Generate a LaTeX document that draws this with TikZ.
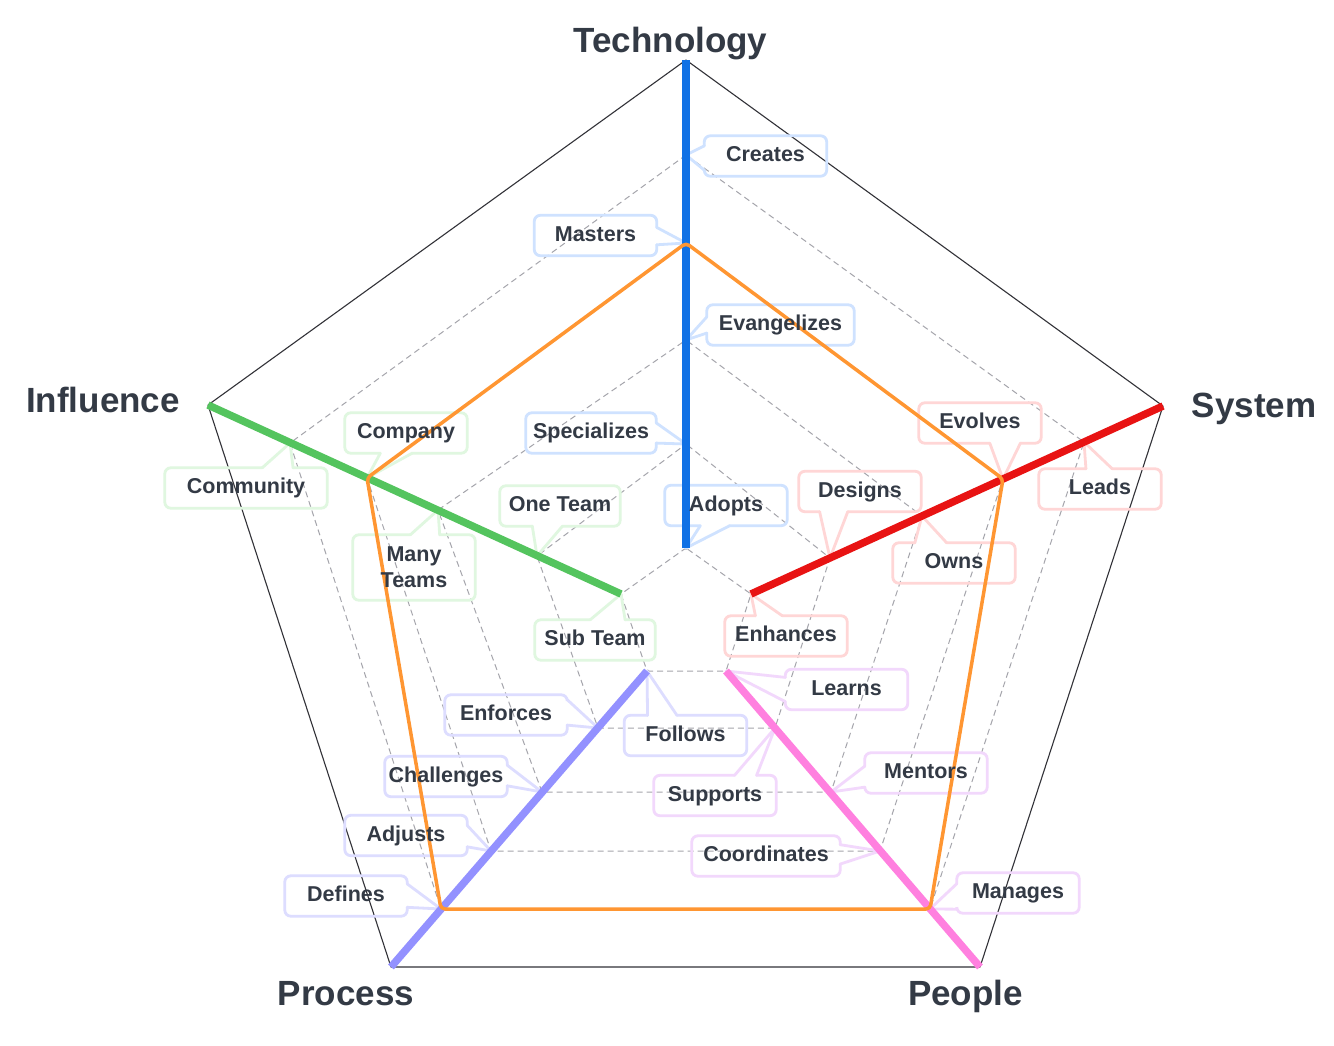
\documentclass[tikz,border=0pt]{standalone}
\usepackage{fontspec}
\setmainfont{Liberation Sans}
\usetikzlibrary{calc}

\definecolor{ink}{RGB}{51,58,69}
\definecolor{ringgrey}{RGB}{165,165,172}
\definecolor{outerc}{RGB}{50,50,56}
\definecolor{bluec}{RGB}{16,113,229}
\definecolor{redc}{RGB}{232,19,19}
\definecolor{greenc}{RGB}{84,196,94}
\definecolor{purpc}{RGB}{147,145,255}
\definecolor{pinkc}{RGB}{255,128,223}
\definecolor{orangec}{RGB}{255,150,50}
\definecolor{bluel}{RGB}{207,226,255}
\definecolor{redl}{RGB}{255,214,214}
\definecolor{greenl}{RGB}{224,247,224}
\definecolor{purpl}{RGB}{221,221,255}
\definecolor{pinkl}{RGB}{242,216,252}

\pgfdeclarelayer{bg}
\pgfsetlayers{bg,main}

% callout outline with its pointer on the bottom / top / left / right edge
% #1 node, #2 colour, #3 #4 pointer base (fractions along the edge), #5 tip
\newcommand\calloutB[5]{%
  \draw[cbox,draw=#2] ($(#1.south west)!#4!(#1.south east)$) -- (#1.south east) -- (#1.north east) -- (#1.north west) -- (#1.south west) -- ($(#1.south west)!#3!(#1.south east)$);
  \draw[cptr,draw=#2] ($(#1.south west)!#3!(#1.south east)$) -- (#5) -- ($(#1.south west)!#4!(#1.south east)$);}
\newcommand\calloutT[5]{%
  \draw[cbox,draw=#2] ($(#1.north west)!#4!(#1.north east)$) -- (#1.north east) -- (#1.south east) -- (#1.south west) -- (#1.north west) -- ($(#1.north west)!#3!(#1.north east)$);
  \draw[cptr,draw=#2] ($(#1.north west)!#3!(#1.north east)$) -- (#5) -- ($(#1.north west)!#4!(#1.north east)$);}
\newcommand\calloutL[5]{%
  \draw[cbox,draw=#2] ($(#1.north west)!#4!(#1.south west)$) -- (#1.south west) -- (#1.south east) -- (#1.north east) -- (#1.north west) -- ($(#1.north west)!#3!(#1.south west)$);
  \draw[cptr,draw=#2] ($(#1.north west)!#3!(#1.south west)$) -- (#5) -- ($(#1.north west)!#4!(#1.south west)$);}
\newcommand\calloutR[5]{%
  \draw[cbox,draw=#2] ($(#1.north east)!#4!(#1.south east)$) -- (#1.south east) -- (#1.south west) -- (#1.north west) -- (#1.north east) -- ($(#1.north east)!#3!(#1.south east)$);
  \draw[cptr,draw=#2] ($(#1.north east)!#3!(#1.south east)$) -- (#5) -- ($(#1.north east)!#4!(#1.south east)$);}

\tikzset{
  dashring/.style={draw=ringgrey, line width=1pt, dash pattern=on 6pt off 4pt, rounded corners=2pt},
  outerring/.style={draw=outerc, line width=1.1pt, line join=round},
  spoke/.style={line width=7.5pt, line cap=butt},
  score/.style={draw=orangec, line width=3.5pt, line join=round, rounded corners=4pt},
  cbox/.style={line width=2.8pt, rounded corners=6pt, line cap=round},
  cptr/.style={line width=2.8pt, line join=round, line cap=round},
  lbl/.style={font=\fontsize{21.5}{26}\selectfont\bfseries, text=ink, inner sep=0pt,
    minimum width=122pt, minimum height=40pt, text height=15.5pt, text depth=4.5pt},
  lbltwo/.style={font=\fontsize{21.5}{26}\selectfont\bfseries, text=ink, inner sep=0pt,
    minimum width=122pt, minimum height=65pt, align=center},
  axlbl/.style={font=\fontsize{35}{42}\selectfont\bfseries, text=ink, inner sep=0pt, anchor=base}
}

\begin{document}
\begin{tikzpicture}[x=1pt,y=-1pt]
\useasboundingbox (0,0) rectangle (1334,1045);

% level points on the five axes, level 0 (hub) to level 5 (rim)
\foreach \n/\x/\y in {T0/686/548, T1/686/444, T2/686/340, T3/686/243, T4/686/155, T5/686/60,
  S0/751/594, S1/830/558, S2/922/516, S3/1003/479, S4/1084/442, S5/1163/406,
  P0/726/671, P1/775/728, P2/831/792, P3/880/851, P4/930/909, P5/980/967,
  R0/647/671, R1/598/728, R2/542/792, R3/491/851, R4/441/909, R5/391/967,
  I0/621/594, I1/537/556, I2/438/510, I3/367/478, I4/290/443, I5/208/405}
  \coordinate (\n) at (\x,\y);

% axis titles
\node[axlbl] (lTech) at (670.5,52) {Technology};
\node[axlbl] (lSys) at (1254,417) {System};
\node[axlbl] (lPeople) at (965.5,1005) {People};
\node[axlbl] (lProc) at (346,1005) {Process};
\node[axlbl] (lInfl) at (103,412) {Influence};

% callout texts
\node[lbl] (cCreates) at (765.5,156) {Creates};
\node[lbl] (cMasters) at (595.5,235.5) {Masters};
\node[lbl, minimum width=147pt] (cEvang) at (780.5,325) {Evangelizes};
\node[lbl, minimum width=130pt] (cSpec) at (591,433) {Specializes};
\node[lbl] (cAdopts) at (726,505.5) {Adopts};

\node[lbl] (cDesigns) at (860,491.5) {Designs};
\node[lbl] (cEvolves) at (980,423) {Evolves};
\node[lbl] (cOwns) at (954,563) {Owns};
\node[lbl] (cLeads) at (1100,489) {Leads};
\node[lbl] (cEnh) at (786,636) {Enhances};

\node[lbl] (cLearns) at (846.5,689.5) {Learns};
\node[lbl] (cSupports) at (715,795.5) {Supports};
\node[lbl] (cMentors) at (926,773) {Mentors};
\node[lbl, minimum width=148pt] (cCoord) at (766,856) {Coordinates};
\node[lbl] (cManages) at (1018,893) {Manages};

\node[lbl] (cFollows) at (685.5,735.5) {Follows};
\node[lbl] (cEnforces) at (506,715) {Enforces};
\node[lbl] (cChall) at (446,776.5) {Challenges};
\node[lbl] (cAdjusts) at (406,835.5) {Adjusts};
\node[lbl] (cDefines) at (346,896) {Defines};

\node[lbl, minimum width=120pt] (cSub) at (595,640) {Sub Team};
\node[lbl, minimum width=120pt] (cOne) at (560,506) {One Team};
\node[lbltwo] (cMany) at (414,567.5) {Many\\Teams};
\node[lbl] (cCompany) at (406,433) {Company};
\node[lbl, minimum width=162pt] (cCommunity) at (246,488) {Community};

\begin{pgfonlayer}{bg}
  \fill[white] (0,0) rectangle (1334,1045);

  % grid rings
  \foreach \k in {0,...,4}
    \draw[dashring] (T\k) -- (S\k) -- (P\k) -- (R\k) -- (I\k) -- cycle;
  \draw[outerring] (T5) -- (S5) -- (P5) -- (R5) -- (I5) -- cycle;

  % callout frames
  \calloutL{cCreates}{bluel}{0.25}{0.85}{T4}
  \calloutR{cMasters}{bluel}{0.3}{0.73}{T3}
  \calloutL{cEvang}{bluel}{0.3}{0.7}{T2}
  \calloutR{cSpec}{bluel}{0.25}{0.75}{T1}
  \calloutB{cAdopts}{bluel}{0.29}{0.53}{T0}

  \calloutB{cDesigns}{redl}{0.17}{0.4}{S1}
  \calloutB{cEvolves}{redl}{0.58}{0.83}{S3}
  \calloutT{cOwns}{redl}{0.18}{0.44}{S2}
  \calloutT{cLeads}{redl}{0.385}{0.6}{S4}
  \calloutT{cEnh}{redl}{0.25}{0.47}{S0}

  \calloutL{cLearns}{pinkl}{0.2}{0.8}{P0}
  \calloutT{cSupports}{pinkl}{0.66}{0.84}{P1}
  \calloutL{cMentors}{pinkl}{0.33}{0.85}{P2}
  \calloutR{cCoord}{pinkl}{0.22}{0.7}{P3}
  \calloutL{cManages}{pinkl}{0.27}{0.9}{P4}

  \calloutT{cFollows}{purpl}{0.19}{0.43}{R0}
  \calloutR{cEnforces}{purpl}{0.12}{0.75}{R1}
  \calloutR{cChall}{purpl}{0.22}{0.73}{R2}
  \calloutR{cAdjusts}{purpl}{0.25}{0.78}{R3}
  \calloutR{cDefines}{purpl}{0.2}{0.78}{R4}

  \calloutT{cSub}{greenl}{0.46}{0.75}{I0}
  \calloutB{cOne}{greenl}{0.27}{0.52}{I1}
  \calloutT{cMany}{greenl}{0.47}{0.71}{I2}
  \calloutB{cCompany}{greenl}{0.29}{0.55}{I3}
  \calloutT{cCommunity}{greenl}{0.6}{0.79}{I4}

  % axes
  \draw[spoke, draw=bluec] (T0) -- (T5);
  \draw[spoke, draw=redc] (S0) -- (S5);
  \draw[spoke, draw=pinkc] (P0) -- (P5);
  \draw[spoke, draw=purpc] (R0) -- (R5);
  \draw[spoke, draw=greenc] (I0) -- (I5);

  % profile
  \draw[score] (T3) -- (S3) -- (P4) -- (R4) -- (I3) -- cycle;
\end{pgfonlayer}
\end{tikzpicture}
\end{document}
